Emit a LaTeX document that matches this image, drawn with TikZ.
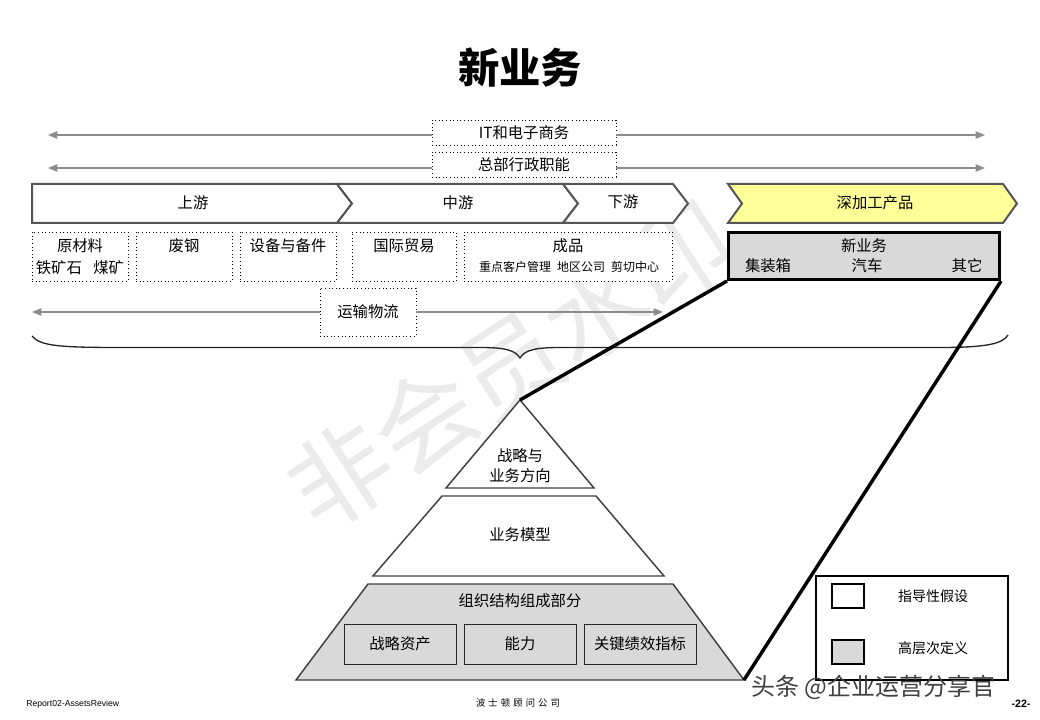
\documentclass[tikz,border=0pt]{standalone}
\usepackage{fontspec}
\setmainfont{Noto Sans CJK SC}
\newfontfamily\latin{Liberation Sans}
\usetikzlibrary{arrows.meta,calc}
\definecolor{chev}{HTML}{555555}
\definecolor{yel}{HTML}{FFFF99}
\definecolor{lgray}{HTML}{D9D9D9}
\definecolor{arrg}{HTML}{8C8C8C}
\begin{document}
\begin{tikzpicture}[x=0.75pt,y=-0.75pt,
  wh/.style 2 args={minimum width=#1*0.75pt,minimum height=#2*0.75pt},
  txt/.style={font=\fontsize{11.5}{13}\selectfont,inner sep=0pt},
  smalltxt/.style={font=\fontsize{9}{10}\selectfont,inner sep=0pt},
  legtxt/.style={font=\fontsize{10.5}{12}\selectfont,inner sep=0pt},
  dotbox/.style={draw=black,dotted,line width=0.7pt,inner sep=0pt,fill=white},
  chevron/.style={draw=chev,line width=1.5pt,line join=miter},
  garrow/.style={draw=arrg,line width=1pt,-{Triangle[length=7pt,width=5.5pt]}},
  pyr/.style={draw=black!75,line width=1.1pt,line join=miter},
  biglink/.style={line width=2.6pt,black},
  greybox/.style={draw=black!85,line width=0.7pt,fill=lgray,inner sep=0pt}]
\useasboundingbox (0,0) rectangle (1040,720);

% background watermark
\node[rotate=33,text=black!8,font=\fontsize{76}{76}\selectfont,inner sep=0pt] (wm) at (510,365) {非会员水印};

% title
\node[font=\fontsize{31}{31}\selectfont\bfseries,inner sep=0pt] (title) at (520,68) {新业务};

% top support functions
\coordinate (itL) at (48,135);
\coordinate (itR) at (985,135);
\coordinate (hqL) at (48,168);
\coordinate (hqR) at (985,168);
\node[dotbox,wh={184}{25},txt] (it) at (524,132.5) {IT和电子商务};
\node[dotbox,wh={184}{25},txt] (hq) at (524,164.5) {总部行政职能};
\draw[garrow] (it.west |- itL) -- (itL);
\draw[garrow] (it.east |- itR) -- (itR);
\draw[garrow] (hq.west |- hqL) -- (hqL);
\draw[garrow] (hq.east |- hqR) -- (hqR);

% chevrons
\draw[chevron,fill=white] (32,184) -- (337,184) -- (352,203.5) -- (337,223) -- (32,223) -- cycle;
\draw[chevron,fill=white] (337,184) -- (563,184) -- (578,203.5) -- (563,223) -- (337,223) -- (352,203.5) -- cycle;
\draw[chevron,fill=white] (563,184) -- (673,184) -- (688,203.5) -- (673,223) -- (563,223) -- (578,203.5) -- cycle;
\draw[chevron,fill=yel] (728,184) -- (1003,184) -- (1017,203.5) -- (1003,223) -- (728,223) -- (742,203.5) -- cycle;
\node[txt] (up) at (193,203) {上游};
\node[txt] (mid) at (458,203) {中游};
\node[txt] (down) at (623,202) {下游};
\node[txt] (deep) at (875,203) {深加工产品};

% segment boxes
\node[dotbox,wh={96}{49}] (raw) at (80,256.5) {};
\node[txt] (rawt) at (80,246) {原材料};
\node[txt] (raws) at (80,268) {铁矿石\hspace{0.75em}煤矿};
\node[dotbox,wh={96}{49}] (scrap) at (184,256.5) {};
\node[txt] (scrapt) at (184,246) {废钢};
\node[dotbox,wh={96}{49}] (equip) at (288,256.5) {};
\node[txt] (equipt) at (288,246) {设备与备件};
\node[dotbox,wh={104}{49}] (trade) at (404,256.5) {};
\node[txt] (tradet) at (404,246) {国际贸易};
\node[dotbox,wh={208}{49}] (prod) at (568,256.5) {};
\node[txt] (prodt) at (568,246) {成品};
\node[smalltxt] (prods) at (569,267) {重点客户管理\hspace{0.5em}地区公司\hspace{0.5em}剪切中心};

\node[draw=black,line width=2.3pt,fill=lgray,wh={271}{47},inner sep=0pt] (nb) at (864,256) {};
\node[txt] (nbt) at (864,246) {新业务};
\node[txt] (nb1) at (768,266) {集装箱};
\node[txt] (nb2) at (867,266) {汽车};
\node[txt] (nb3) at (967,266) {其它};

% logistics
\coordinate (lgL) at (32,312);
\coordinate (lgR) at (663,312);
\node[dotbox,wh={96}{48},txt] (log) at (368,312) {运输物流};
\draw[garrow] (log.west) -- (lgL);
\draw[garrow] (log.east) -- (lgR);

% brace
\draw[black!85,line width=1pt] (32,336) .. controls (40,346) and (60,347.5) .. (120,347.5)
  -- (480,347.5) .. controls (505,347.5) and (515,350) .. (520,358)
  .. controls (525,350) and (535,347.5) .. (560,347.5) -- (940,347.5)
  .. controls (990,347.5) and (1003,343) .. (1008,335);

% pyramid
\coordinate (apex) at (520,400);
\coordinate (pbr) at (744,680);
\draw[pyr,fill=white] (apex) -- (594,488) -- (446,488) -- cycle;
\draw[pyr,fill=white] (442,496) -- (596,496) -- (664,576) -- (373,576) -- cycle;
\draw[pyr,fill=lgray] (368,584) -- (673,584) -- (pbr) -- (296,680) -- cycle;
\node[txt] (p1a) at (520,456) {战略与};
\node[txt] (p1b) at (520,476) {业务方向};
\node[txt] (p2) at (520,535) {业务模型};
\node[txt] (p3) at (520,601) {组织结构组成部分};
\node[greybox,wh={112}{40},txt] (sa) at (400,644) {战略资产};
\node[greybox,wh={112}{40},txt] (cap) at (520,644) {能力};
\node[greybox,wh={112}{40},txt] (kpi) at (640,644) {关键绩效指标};

% zoom links
\draw[biglink] (nb.south west) -- (apex);
\draw[biglink] (nb.south east) -- (pbr);

% legend
\node[draw=black,line width=0.8pt,fill=white,wh={192}{104},inner sep=0pt] (leg) at (912,628) {};
\node[draw=black,line width=0.8pt,fill=white,wh={32}{24},inner sep=0pt] (lw) at (848,596) {};
\node[draw=black,line width=0.8pt,fill=lgray,wh={32}{24},inner sep=0pt] (lg) at (848,652) {};
\node[legtxt] (lwt) at (933,596) {指导性假设};
\node[legtxt] (lgt) at (933,648) {高层次定义};

% footer
\node[font=\latin\fontsize{6.5}{7}\selectfont,anchor=west,inner sep=0pt] (rep) at (26,704) {Report02-AssetsReview};
\node[font=\fontsize{7}{8}\selectfont,inner sep=0pt] (bcg) at (518,703) {波\,\,士\,\,顿\,\,顾\,\,问\,\,公\,\,司};
\node[font=\latin\fontsize{8}{9}\selectfont\bfseries,inner sep=0pt] (pg) at (1021,704) {-22-};

% overlay watermark
\node[font=\fontsize{18}{18}\selectfont,text=black!75,anchor=west,inner sep=0pt] (tt) at (751,687) {头条 @企业运营分享官};
\end{tikzpicture}
\end{document}
